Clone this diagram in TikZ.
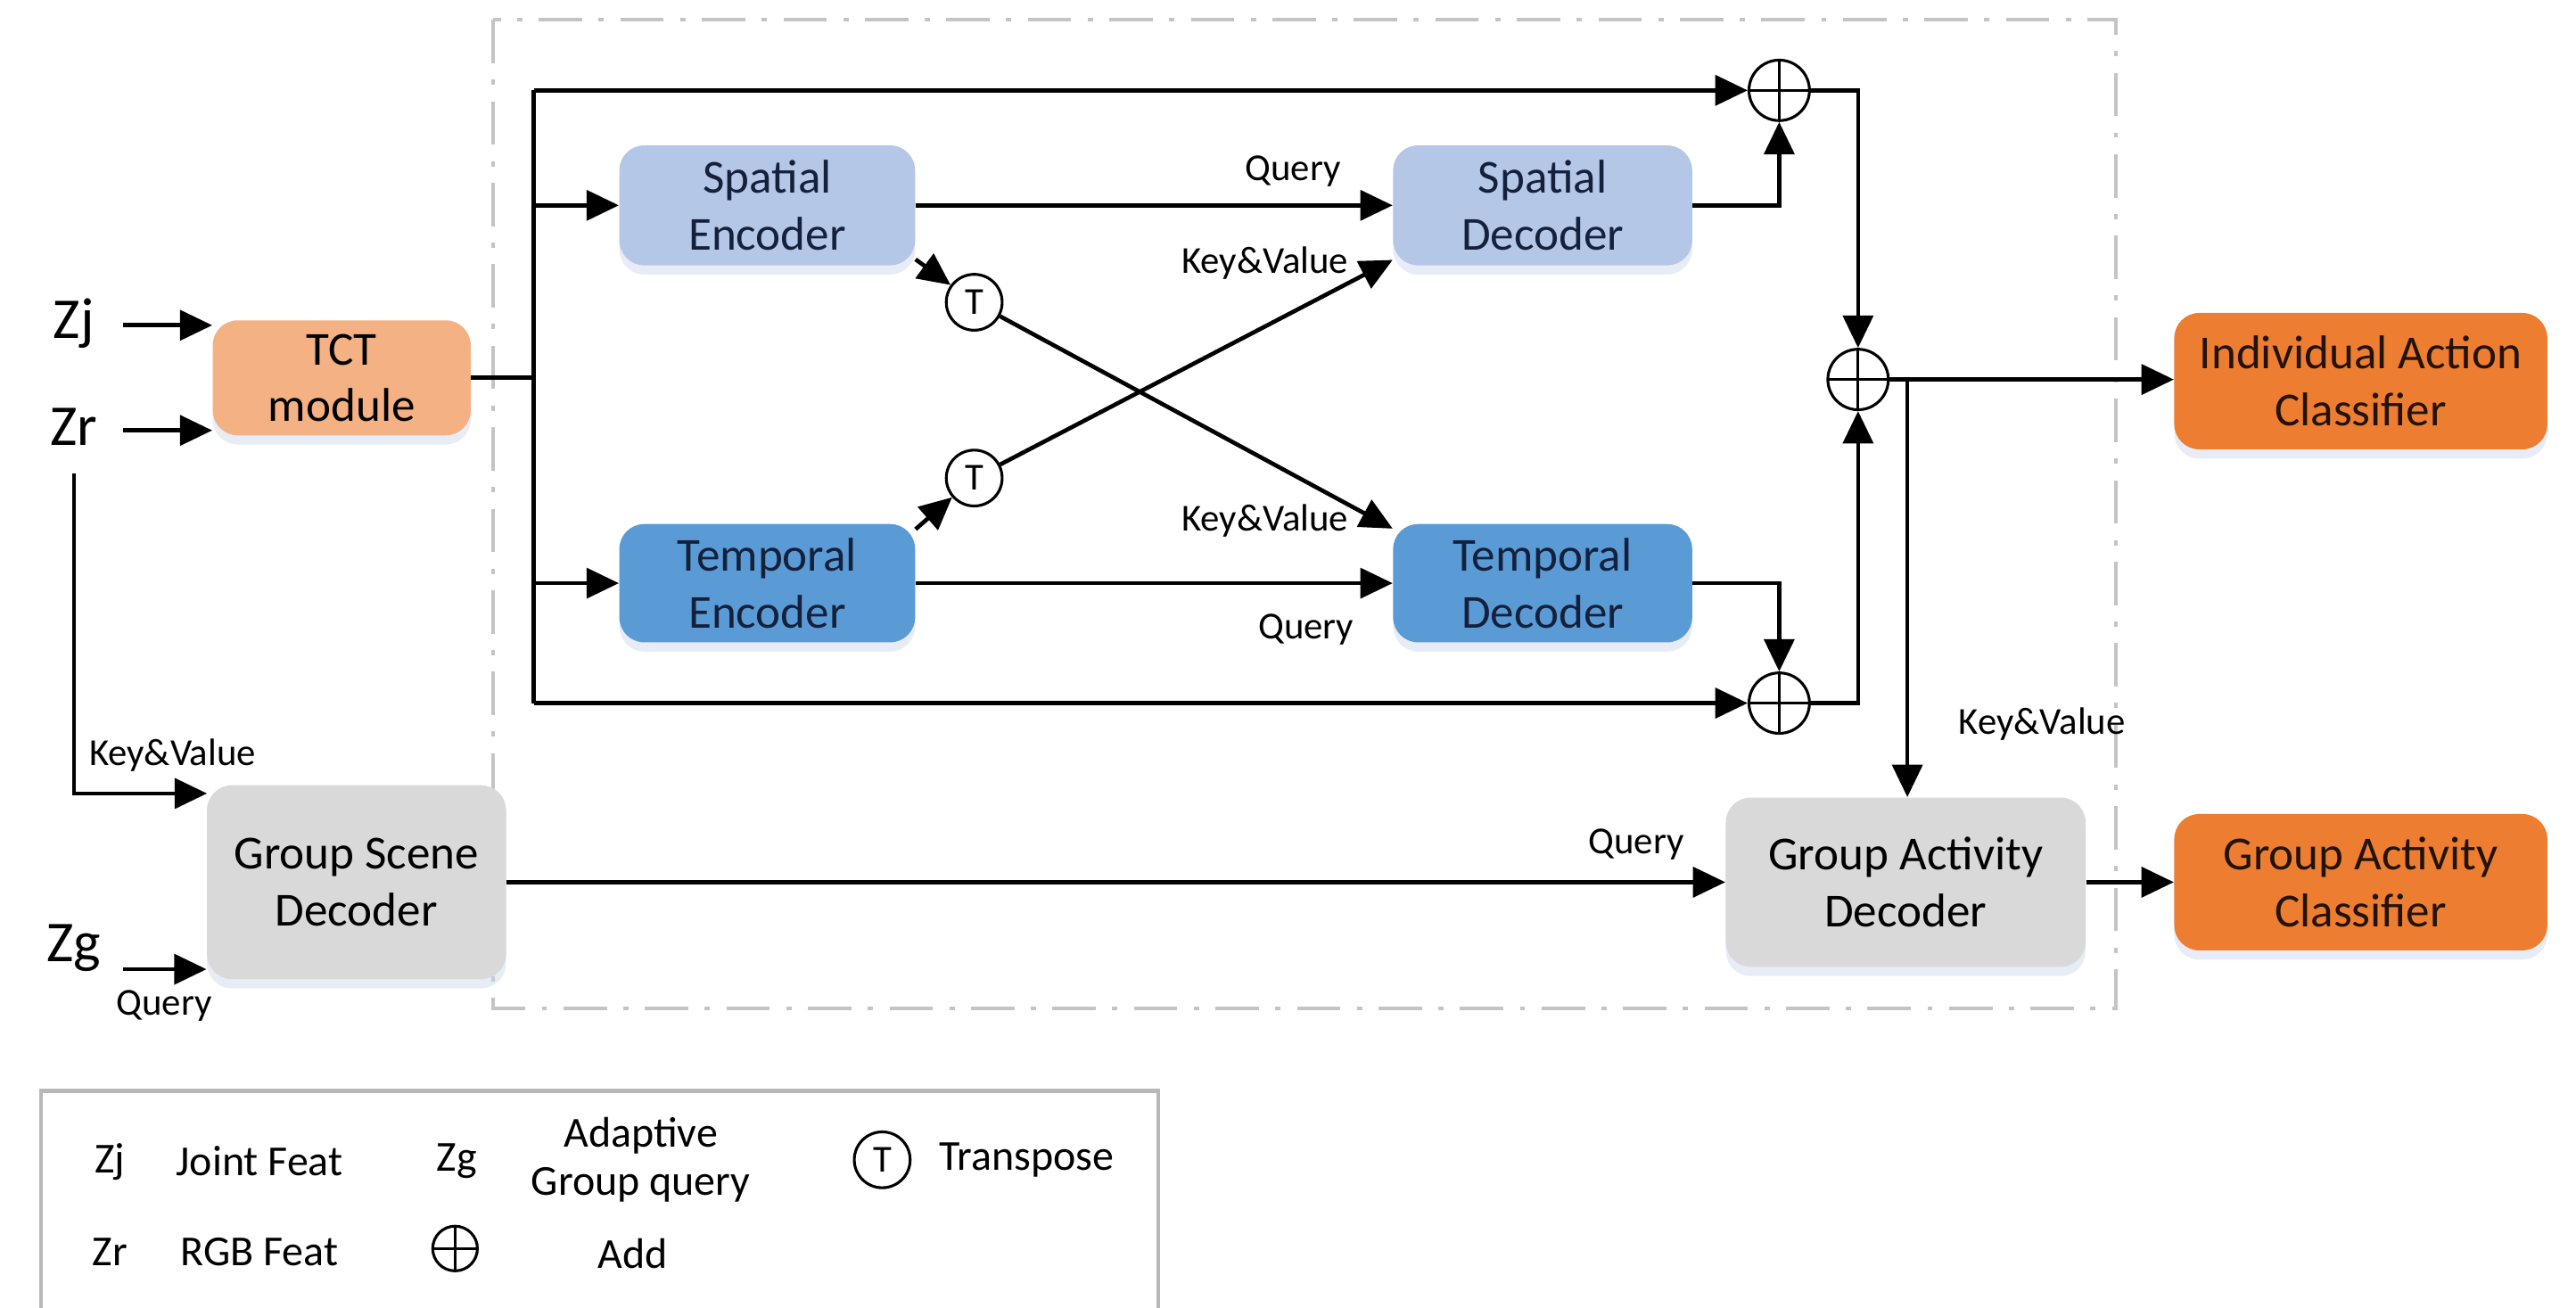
\documentclass[tikz,border=0pt]{standalone}
\usepackage{fontspec}
\setmainfont{Carlito}
\usetikzlibrary{arrows.meta,shadows,calc}
\definecolor{spc}{HTML}{B4C7E7}
\definecolor{tpc}{HTML}{5B9BD5}
\definecolor{tctc}{HTML}{F4B183}
\definecolor{clsc}{HTML}{ED7D31}
\definecolor{grpc}{HTML}{D9D9D9}
\definecolor{navy}{HTML}{14213D}
\definecolor{dashc}{HTML}{C4C4C4}
\definecolor{sdw}{HTML}{C9D5EA}
\begin{document}
\begin{tikzpicture}[x=0.025cm,y=-0.025cm,
  box/.style={rounded corners=0.38cm, align=center, inner sep=0pt,
    font=\fontsize{20.5}{24.5}\selectfont,
    drop shadow={shadow xshift=0pt,shadow yshift=-4pt,opacity=0.45,fill=sdw}},
  spbox/.style={box, fill=spc, text=navy, minimum width=4.5cm, minimum height=1.825cm},
  tpbox/.style={box, fill=tpc, text=navy, minimum width=4.5cm, minimum height=1.8cm},
  lbl/.style={font=\fontsize{16.5}{18}\selectfont, inner sep=0pt},
  inp/.style={font=\fontsize{25}{27}\selectfont, inner sep=0pt},
  leg/.style={font=\fontsize{18.5}{21}\selectfont, inner sep=0pt, align=center},
  ln/.style={line width=1.8pt},
  arr/.style={line width=1.8pt, -{Triangle[length=14pt,width=13pt]}},
  addop/.style={circle, draw, line width=1.2pt, minimum size=0.92cm, inner sep=0pt,
    path picture={\draw[line width=1.2pt] (path picture bounding box.north) -- (path picture bounding box.south)
      (path picture bounding box.west) -- (path picture bounding box.east);}},
  trop/.style={circle, draw, line width=1.2pt, minimum size=0.85cm, inner sep=0pt,
    font=\fontsize{16.5}{18}\selectfont}
]
\useasboundingbox (0,0) rectangle (1568,796);

% dashed frame
\draw[dashc, line width=1.6pt, dash pattern=on 0.66cm off 0.25cm on 0.08cm off 0.25cm]
  (300,12) rectangle (1288,614);

% nodes
\node[box, fill=tctc, text=black, minimum width=3.925cm, minimum height=1.75cm] (TCT) at (208,230) {TCT\\module};
\node[spbox] (SE) at (467,125) {Spatial\\Encoder};
\node[tpbox] (TE) at (467,355) {Temporal\\Encoder};
\node[spbox, minimum width=4.55cm] (SD) at (939,125) {Spatial\\Decoder};
\node[tpbox, minimum width=4.55cm] (TD) at (939,355) {Temporal\\Decoder};
\node[box, fill=grpc, text=black, minimum width=4.55cm, minimum height=2.95cm] (GSD) at (217,537) {Group Scene\\Decoder};
\node[box, fill=grpc, text=black, minimum width=5.475cm, minimum height=2.575cm] (GAD) at (1160,537) {Group Activity\\Decoder};
\node[box, fill=clsc, text=black!85!clsc, minimum width=5.675cm, minimum height=2.075cm] (IAC) at (1437,232) {Individual Action\\Classifier};
\node[box, fill=clsc, text=black!85!clsc, minimum width=5.675cm, minimum height=2.075cm] (GAC) at (1437,537) {Group Activity\\Classifier};

\node[trop] (T1) at (593,184) {T};
\node[trop] (T2) at (593,291) {T};
\node[addop] (P1) at (1083,55) {};
\node[addop] (P2) at (1083,428) {};
\node[addop] (P3) at (1131,231) {};

% inputs
\node[inp] (Zj) at (45,197) {Zj};
\node[inp] (Zr) at (45,260) {Zr};
\node[inp] (Zg) at (45,577) {Zg};
\coordinate (zjs) at (75,198);
\coordinate (zrs) at (75,262);
\coordinate (zgs) at (75,590);
\coordinate (kvend) at (126,483);
\coordinate (zrd) at (45,288);

\draw[arr] (zjs) -- (zjs -| TCT.west);
\draw[arr] (zrs) -- (zrs -| TCT.west);
\draw[arr] (zgs) -- (zgs -| GSD.west);
\draw[arr] (zrd) |- (kvend);

% bus
\coordinate (bt) at (325,55);
\coordinate (bb) at (325,428);
\draw[ln] (TCT.east) -- (TCT.east -| bt);
\draw[ln] (bt) -- (bb);
\draw[arr] (bt) -- (P1);
\draw[arr] (bb) -- (P2);
\draw[arr] (bt |- SE.west) -- (SE.west);
\draw[arr] (bt |- TE.west) -- (TE.west);

% encoders to decoders
\draw[arr] (SE.east) -- (SD.west);
\draw[arr] (TE.east) -- (TD.west);
\draw[arr] (SE.-20) -- (T1);
\draw[arr] (T1) -- (TD.160);
\draw[arr] (TE.20) -- (T2);
\draw[arr] (T2) -- (SD.200);

% decoders to adds
\draw[arr] (SD.east) -| (P1.south);
\draw[arr] (TD.east) -| (P2.north);
\draw[arr] (P1.east) -| (P3.north);
\draw[arr] (P2.east) -| (P3.south);
\draw[arr] (P3.east) -- (P3.east -| IAC.west);
\coordinate (br) at (1161,231);
\draw[arr] (br) -- (br |- GAD.north);

% group path
\draw[arr] (GSD.east) -- (GAD.west);
\draw[arr] (GAD.east) -- (GAD.east -| GAC.west);

% labels
\node[lbl] (q1) at (787,104) {Query};
\node[lbl] (kv1) at (770,160) {Key\&Value};
\node[lbl] (kv2) at (770,317) {Key\&Value};
\node[lbl] (q2) at (795,383) {Query};
\node[lbl] (kv3) at (1243,441) {Key\&Value};
\node[lbl] (q3) at (996,514) {Query};
\node[lbl] (kv4) at (105,460) {Key\&Value};
\node[lbl] (q4) at (100,612) {Query};

% legend
\draw[black!28, line width=1.8pt] (25,796) -- (25,664) -- (705,664) -- (705,796);
\node[leg] (lzj) at (67,707) {Zj};
\node[leg] (ljf) at (158,707) {Joint Feat};
\node[leg] (lzg) at (278,707) {Zg};
\node[leg] (lagq) at (390,706) {Adaptive\\Group query};
\node[trop] (lt) at (537,706) {T};
\node[leg] (ltr) at (625,706) {Transpose};
\node[leg] (lzr) at (67,762) {Zr};
\node[leg] (lrgb) at (158,762) {RGB Feat};
\node[addop, minimum size=0.68cm] (lp) at (277,760) {};
\node[leg] (ladd) at (385,763) {Add};
\end{tikzpicture}
\end{document}
